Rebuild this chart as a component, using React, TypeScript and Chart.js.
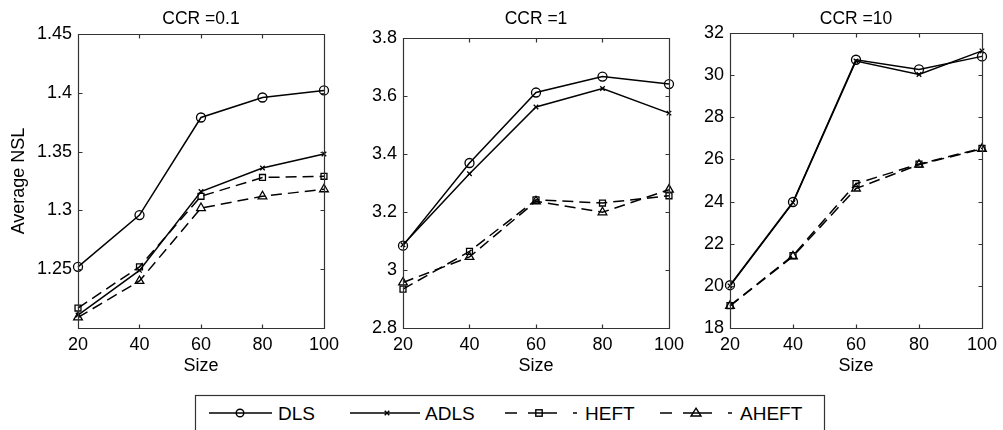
import React, { useEffect, useRef } from "react";
import { Chart, registerables } from "chart.js";

Chart.register(...registerables);

// ---------- data ----------
const sizes = [20, 40, 60, 80, 100];
const seriesNames = ["DLS", "ADLS", "HEFT", "AHEFT"];
const panelTitles = ["CCR =0.1", "CCR =1", "CCR =10"];

const ccr01DLS = [1.252, 1.296, 1.379, 1.396, 1.402];
const ccr01ADLS = [1.211, 1.249, 1.316, 1.336, 1.348];
const ccr01HEFT = [1.217, 1.252, 1.312, 1.328, 1.329];
const ccr01AHEFT = [1.209, 1.24, 1.302, 1.312, 1.318];

const ccr1DLS = [3.084, 3.369, 3.612, 3.667, 3.641];
const ccr1ADLS = [3.087, 3.332, 3.562, 3.626, 3.541];
const ccr1HEFT = [2.934, 3.064, 3.242, 3.231, 3.256];
const ccr1AHEFT = [2.957, 3.045, 3.237, 3.199, 3.277];

const ccr10DLS = [20.03, 23.98, 30.73, 30.27, 30.89];
const ccr10ADLS = [20.0, 23.95, 30.67, 30.03, 31.15];
const ccr10HEFT = [19.06, 21.44, 24.85, 25.78, 26.53];
const ccr10AHEFT = [19.05, 21.4, 24.62, 25.75, 26.5];

const yMins = [1.2, 2.8, 18];
const yMaxs = [1.45, 3.8, 32];
const ySteps = [0.05, 0.2, 2];
const yHiddenLabels = [[1.2], [], []];
const xTitle = "Size";
const yTitle = "Average NSL";

const panelData = [
  [ccr01DLS, ccr01ADLS, ccr01HEFT, ccr01AHEFT],
  [ccr1DLS, ccr1ADLS, ccr1HEFT, ccr1AHEFT],
  [ccr10DLS, ccr10ADLS, ccr10HEFT, ccr10AHEFT],
];

// ---------- styles / layout ----------
const FONT = "'Liberation Sans', Arial, Helvetica, sans-serif";
const seriesStyle = [
  { point: "circle", radius: 4.5, dash: [] as number[] },
  { point: "crossRot", radius: 3.2, dash: [] as number[] },
  { point: "rect", radius: 4.2, dash: [11, 6] },
  { point: "triangle", radius: 5, dash: [11, 6] },
];

const panelLayout = [
  { left: 0, width: 345, plotLeft: 78, plotRight: 327, plotTop: 34, plotBottom: 328, yTitle: true },
  { left: 345, width: 345, plotLeft: 403, plotRight: 649, plotTop: 38, plotBottom: 328, yTitle: false },
  { left: 690, width: 313, plotLeft: 730, plotRight: 986, plotTop: 33, plotBottom: 328, yTitle: false },
];
const CANVAS_H = 390;

function fmt(v: number) {
  return String(Number(v.toFixed(3)));
}

function Panel({ idx }: { idx: number }) {
  const ref = useRef<HTMLCanvasElement>(null);
  useEffect(() => {
    const L = panelLayout[idx];
    const vals = panelData[idx];
    const title = panelTitles[idx];
    const frame = {
      id: "frame" + idx,
      afterDraw(chart: any) {
        const { ctx, chartArea } = chart;
        const xs = chart.scales.x;
        const ys = chart.scales.y;
        ctx.save();
        ctx.strokeStyle = "#333";
        ctx.lineWidth = 1.2;
        const l = Math.round(chartArea.left) + 0.5;
        const r = Math.round(chartArea.right) + 0.5;
        const t = Math.round(chartArea.top) + 0.5;
        const b = Math.round(chartArea.bottom) + 0.5;
        ctx.beginPath();
        ctx.rect(l, t, r - l, b - t);
        const tl = 4;
        xs.ticks.forEach((tk: any) => {
          const px = Math.round(xs.getPixelForValue(tk.value)) + 0.5;
          ctx.moveTo(px, b);
          ctx.lineTo(px, b - tl);
          ctx.moveTo(px, t);
          ctx.lineTo(px, t + tl);
        });
        ys.ticks.forEach((tk: any) => {
          const py = Math.round(ys.getPixelForValue(tk.value)) + 0.5;
          ctx.moveTo(l, py);
          ctx.lineTo(l + tl, py);
          ctx.moveTo(r, py);
          ctx.lineTo(r - tl, py);
        });
        ctx.stroke();
        ctx.fillStyle = "#000";
        ctx.font = `17.5px ${FONT}`;
        ctx.textAlign = "center";
        ctx.textBaseline = "middle";
        ctx.fillText(title, (chartArea.left + chartArea.right) / 2, 19);
        ctx.restore();
      },
    };
    const font = { family: FONT, size: 18 };
    const chart = new Chart(ref.current as HTMLCanvasElement, {
      type: "line",
      data: {
        datasets: vals.map((arr, i) => ({
          label: seriesNames[i],
          data: arr.map((v, j) => ({ x: sizes[j], y: v })),
          borderColor: "#000",
          borderWidth: 1.5,
          borderDash: seriesStyle[i].dash,
          pointStyle: seriesStyle[i].point as any,
          pointRadius: seriesStyle[i].radius,
          pointBorderColor: "#000",
          pointBackgroundColor: "rgba(0,0,0,0)",
          pointBorderWidth: 1.3,
          tension: 0,
          fill: false,
          clip: false as any,
        })),
      },
      options: {
        animation: false,
        responsive: false,
        events: [],
        layout: {
          padding: { left: 0, top: L.plotTop, right: L.width - L.plotRight, bottom: 0 },
        },
        plugins: {
          legend: { display: false },
          tooltip: { enabled: false },
          title: { display: false },
        },
        scales: {
          x: {
            type: "linear",
            min: 20,
            max: 100,
            grid: { display: false, drawTicks: false },
            border: { display: false },
            ticks: {
              stepSize: 20,
              padding: 6,
              font,
              color: "#000",
              maxRotation: 0,
              autoSkip: false,
              callback: (v: any) => fmt(Number(v)),
            },
            title: { display: true, text: xTitle, font, color: "#000", padding: { top: 0, bottom: 13 } },
            afterFit: (s: any) => {
              s.height = CANVAS_H - L.plotBottom;
            },
          },
          y: {
            type: "linear",
            min: yMins[idx],
            max: yMaxs[idx],
            grid: { display: false, drawTicks: false },
            border: { display: false },
            ticks: {
              stepSize: ySteps[idx],
              padding: 6,
              font,
              color: "#000",
              autoSkip: false,
              callback: (v: any) => {
                const n = Number(v);
                if (yHiddenLabels[idx].some((h) => Math.abs(h - n) < 1e-9)) return "";
                return fmt(n);
              },
            },
            title: {
              display: L.yTitle,
              text: yTitle,
              font,
              color: "#000",
              padding: { top: 8, bottom: 0 },
            },
            afterFit: (s: any) => {
              s.width = L.plotLeft - L.left;
            },
          },
        },
      } as any,
      plugins: [frame],
    });
    return () => chart.destroy();
  }, [idx]);
  const L = panelLayout[idx];
  return (
    <canvas
      ref={ref}
      width={L.width}
      height={CANVAS_H}
      style={{ position: "absolute", left: L.left, top: 0, width: L.width, height: CANVAS_H }}
    />
  );
}

// legend swatch geometry (decoration only)
const legendLines = [
  { x1: 209, x2: 272, marker: 240, text: 278, dash: "" },
  { x1: 350, x2: 420, marker: 387, text: 425, dash: "" },
  { x1: 505, x2: 577, marker: 539, text: 585, dash: "12 11 29 16 4 100" },
  { x1: 660, x2: 732, marker: 696, text: 740, dash: "12 11 29 16 4 100" },
];

function LegendMarker({ kind, cx, cy }: { kind: number; cx: number; cy: number }) {
  const common = { fill: "none", stroke: "#000", strokeWidth: 1.4 };
  if (kind === 0) return <circle cx={cx} cy={cy} r={3.8} {...common} />;
  if (kind === 1)
    return (
      <path d={`M${cx - 2.3} ${cy - 2.3}L${cx + 2.3} ${cy + 2.3}M${cx - 2.3} ${cy + 2.3}L${cx + 2.3} ${cy - 2.3}`} {...common} />
    );
  if (kind === 2) return <rect x={cx - 3.2} y={cy - 3.2} width={6.4} height={6.4} {...common} />;
  return <path d={`M${cx} ${cy - 4.8}L${cx + 5} ${cy + 3}L${cx - 5} ${cy + 3}Z`} {...common} />;
}

function Legend() {
  const cy = 33;
  return (
    <svg width={1003} height={50} style={{ position: "absolute", left: 0, top: 380 }}>
      <rect x={195.5} y={15.5} width={629} height={60} fill="#fff" stroke="#333" strokeWidth={1.2} />
      {seriesNames.map((name, i) => {
        const g = legendLines[i];
        return (
          <g key={name}>
            <line
              x1={g.x1}
              x2={g.x2}
              y1={cy}
              y2={cy}
              stroke="#000"
              strokeWidth={1.5}
              strokeDasharray={g.dash || undefined}
            />
            <LegendMarker kind={i} cx={g.marker} cy={cy} />
            <text x={g.text} y={cy} fontFamily={FONT} fontSize={19} dominantBaseline="central" fill="#000">
              {name}
            </text>
          </g>
        );
      })}
    </svg>
  );
}

export default function App() {
  return (
    <div
      style={{
        position: "absolute",
        left: 0,
        top: 0,
        width: 1003,
        height: 430,
        overflow: "hidden",
        background: "#fff",
      }}
    >
      <Panel idx={0} />
      <Panel idx={1} />
      <Panel idx={2} />
      <Legend />
    </div>
  );
}
